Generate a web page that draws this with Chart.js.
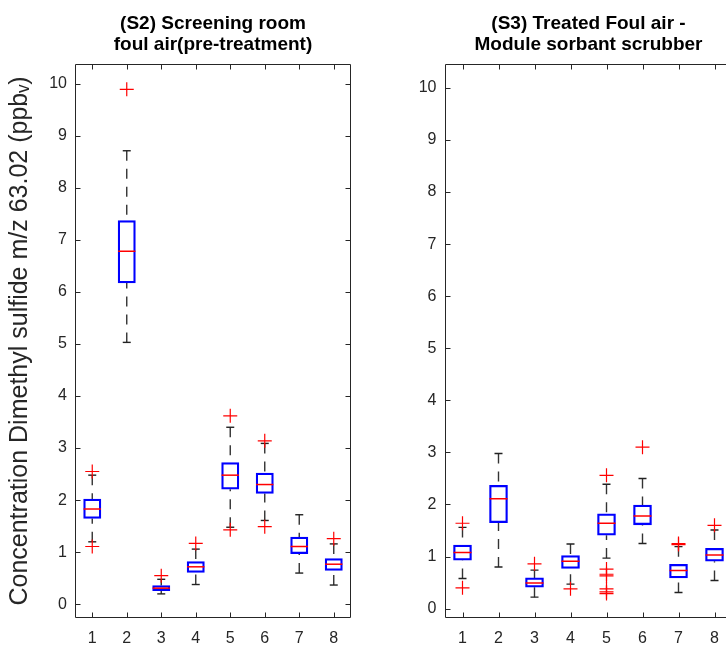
<!DOCTYPE html>
<html>
<head>
<meta charset="utf-8">
<script src="https://cdn.jsdelivr.net/npm/chart.js@4.4.1/dist/chart.umd.min.js"></script>
<style>
html, body { margin: 0; padding: 0; background: #fff; width: 726px; height: 645px; overflow: hidden; }
#wrap { position: relative; width: 726px; height: 645px; overflow: hidden; }
canvas { position: absolute; top: 0; }
#c1 { left: 0; }
#c2 { left: 380px; }
</style>
</head>
<body>
<div id="wrap">
  <canvas id="c1" width="380" height="645"></canvas>
  <canvas id="c2" width="370" height="645"></canvas>
</div>
<script>
// ---------- data ----------
const categories = [1, 2, 3, 4, 5, 6, 7, 8];
const yTickValues = [0, 1, 2, 3, 4, 5, 6, 7, 8, 9, 10];

const s2Title = ['(S2) Screening room', 'foul air(pre-treatment)'];
const s3Title = ['(S3) Treated Foul air -', 'Module sorbant scrubber'];
const yAxisTitle = 'Concentration Dimethyl sulfide m/z 63.02 (ppb\u1D65)';

const s2Q1          = [1.65, 6.17, 0.26, 0.61, 2.21, 2.13, 0.97, 0.65];
const s2Median      = [1.83, 6.78, 0.31, 0.72, 2.48, 2.30, 1.11, 0.77];
const s2Q3          = [2.02, 7.37, 0.36, 0.82, 2.72, 2.52, 1.29, 0.88];
const s2WhiskerLow  = [1.20, 5.03, 0.20, 0.38, 1.48, 1.61, 0.60, 0.37];
const s2WhiskerHigh = [2.48, 8.71, 0.48, 1.06, 3.40, 3.09, 1.72, 1.16];
const s2Outliers    = [[1.11, 2.55], [9.89], [0.55], [1.17], [1.43, 3.62], [1.49, 3.14], [], [1.26]];

const s3Q1          = [0.93, 1.65, 0.41, 0.77, 1.41, 1.61, 0.59, 0.91];
const s3Median      = [1.08, 2.11, 0.49, 0.91, 1.64, 1.78, 0.73, 1.03];
const s3Q3          = [1.22, 2.37, 0.59, 1.02, 1.82, 1.99, 0.85, 1.16];
const s3WhiskerLow  = [0.58, 0.80, 0.22, 0.47, 0.97, 1.25, 0.31, 0.54];
const s3WhiskerHigh = [1.56, 2.98, 0.74, 1.24, 2.39, 2.50, 1.19, 1.51];
const s3Outliers    = [[0.40, 1.64], [], [0.86], [0.38], [0.29, 0.32, 0.38, 0.63, 0.66, 0.76, 2.56], [3.10], [1.23, 1.25], [1.60]];

// ---------- styling ----------
const FONT = "'Liberation Sans', Arial, Helvetica, sans-serif";
const AXIS_COLOR = '#262626';

const frameTicks = {
  id: 'frameTicks',
  afterDraw(chart) {
    const { ctx, chartArea: a, scales: { x, y } } = chart;
    const L = Math.round(a.left) + 0.5, R = Math.round(a.right) - 0.5;
    const T = Math.round(a.top) + 0.5, B = Math.round(a.bottom) - 0.5;
    const len = 5;
    ctx.save();
    ctx.strokeStyle = AXIS_COLOR;
    ctx.lineWidth = 1;
    ctx.beginPath();
    ctx.rect(L, T, R - L, B - T);
    x.ticks.forEach(t => {
      const px = Math.round(x.getPixelForValue(t.value)) + 0.5;
      ctx.moveTo(px, B); ctx.lineTo(px, B - len);
      ctx.moveTo(px, T); ctx.lineTo(px, T + len);
    });
    y.ticks.forEach(t => {
      const py = Math.round(y.getPixelForValue(t.value)) + 0.5;
      ctx.moveTo(L, py); ctx.lineTo(L + len, py);
      ctx.moveTo(R, py); ctx.lineTo(R - len, py);
    });
    ctx.stroke();
    ctx.restore();
  }
};

function buildChart(canvasId, c) {
  const boxes = categories.map((k, i) => ({ x: k, y: [c.q1[i], c.q3[i]] }));
  const medians = categories.map((k, i) => ({ x: k, y: c.med[i] }));
  const caps = categories.flatMap((k, i) => [{ x: k, y: c.hi[i] }, { x: k, y: c.lo[i] }]);
  const whiskers = categories.flatMap((k, i) => [
    { x: k, y: c.hi[i] }, { x: k, y: c.q3[i] }, { x: k, y: null },
    { x: k, y: c.lo[i] }, { x: k, y: c.q1[i] }, { x: k, y: null }
  ]);
  const outliers = categories.flatMap((k, i) => c.out[i].map(v => ({ x: k, y: v })));

  return new Chart(document.getElementById(canvasId), {
    type: 'bar',
    data: {
      datasets: [
        {
          type: 'line', label: 'whiskers', data: whiskers, order: 5,
          borderColor: '#333333', borderWidth: 1.4, borderDash: [10, 8],
          pointRadius: 0, spanGaps: false, fill: false, tension: 0
        },
        {
          type: 'bar', label: 'box', data: boxes, order: 4,
          backgroundColor: 'rgba(0,0,0,0)', borderColor: '#0000ff',
          borderWidth: 1.6, borderSkipped: false, barThickness: c.boxPx
        },
        {
          type: 'scatter', label: 'caps', data: caps, order: 3,
          pointStyle: 'line', pointRadius: 4, pointBorderColor: '#222222',
          pointBorderWidth: 1.4, pointHoverRadius: 4
        },
        {
          type: 'scatter', label: 'median', data: medians, order: 2,
          pointStyle: 'line', pointRadius: c.boxPx / 2, pointBorderColor: '#ff0000',
          pointBorderWidth: 1.5, pointHoverRadius: c.boxPx / 2
        },
        {
          type: 'scatter', label: 'outliers', data: outliers, order: 1,
          pointStyle: 'cross', pointRadius: 7, pointBorderColor: '#ff0000',
          pointBorderWidth: 1.2, pointHoverRadius: 7
        }
      ]
    },
    options: {
      responsive: false,
      animation: false,
      events: [],
      devicePixelRatio: 1,
      layout: { padding: { left: 0, right: c.padRight, top: 0, bottom: 0 } },
      plugins: {
        legend: { display: false },
        tooltip: { enabled: false },
        title: {
          display: true, text: c.title, color: '#000000', fullSize: false,
          font: { family: FONT, size: 19, weight: 'bold', lineHeight: 1.15 },
          padding: { top: 12.4, bottom: 7.9 }
        }
      },
      scales: {
        x: {
          type: 'linear', min: 0.5, max: 8.5, offset: false,
          afterBuildTicks: s => { s.ticks = categories.map(v => ({ value: v })); },
          afterFit: s => { s.height = 27; },
          grid: { display: false, drawTicks: false, offset: false },
          border: { display: false },
          ticks: { color: AXIS_COLOR, padding: 11, font: { family: FONT, size: 16 }, maxRotation: 0, autoSkip: false }
        },
        y: {
          type: 'linear', min: c.yMin, max: c.yMax,
          afterBuildTicks: s => { s.ticks = yTickValues.map(v => ({ value: v })); },
          afterFit: s => { s.width = c.yAxisWidth; },
          grid: { display: false, drawTicks: false },
          border: { display: false },
          ticks: { color: AXIS_COLOR, padding: 8, font: { family: FONT, size: 16 }, autoSkip: false },
          title: c.yTitle ? {
            display: true, text: c.yTitle, color: AXIS_COLOR,
            font: { family: FONT, size: 25 }, padding: { top: 5, bottom: 0 }
          } : { display: false }
        }
      }
    },
    plugins: [frameTicks]
  });
}

buildChart('c1', {
  title: s2Title, q1: s2Q1, med: s2Median, q3: s2Q3, lo: s2WhiskerLow, hi: s2WhiskerHigh, out: s2Outliers,
  yMin: -0.263, yMax: 10.376, yAxisWidth: 75, padRight: 29, boxPx: 17.3, yTitle: yAxisTitle
});
buildChart('c2', {
  title: s3Title, q1: s3Q1, med: s3Median, q3: s3Q3, lo: s3WhiskerLow, hi: s3WhiskerHigh, out: s3Outliers,
  yMin: -0.18, yMax: 10.46, yAxisWidth: 64.5, padRight: 17.5, boxPx: 18, yTitle: null
});
</script>
</body>
</html>
